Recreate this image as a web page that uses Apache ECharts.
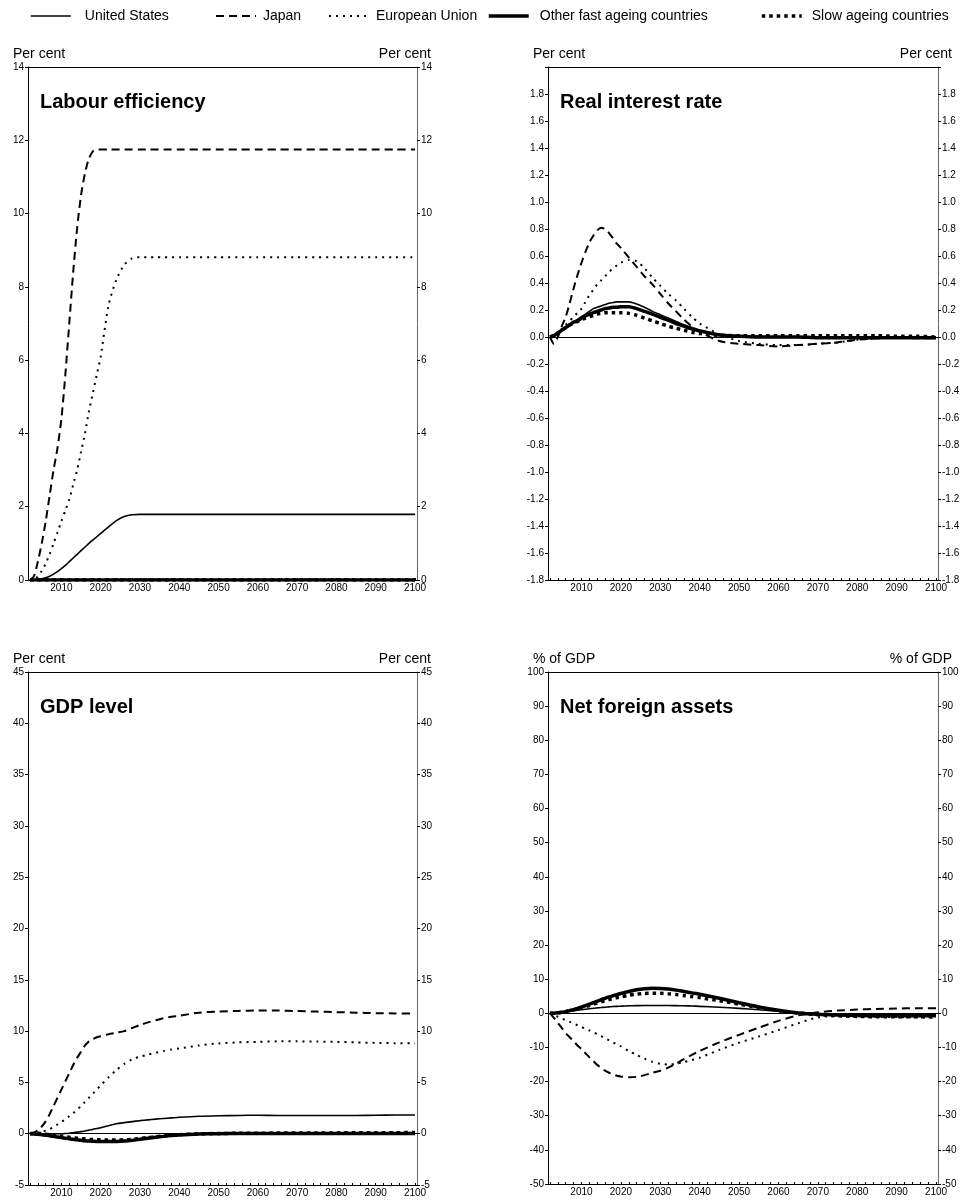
<!DOCTYPE html>
<html>
<head>
<meta charset="utf-8">
<title>Effects of ageing scenarios</title>
<script src="https://cdn.jsdelivr.net/npm/echarts@6/dist/echarts.min.js"></script>
<style>
  html, body { margin: 0; padding: 0; background: #fff; }
  #chart { width: 969px; height: 1200px; }
</style>
</head>
<body>
<div id="chart"></div>
<script>
// Simulation years (annual to 2020, then every 2 years to 2040, then every 5 years)
const YEARS = [2002,2003,2004,2005,2006,2007,2008,2009,2010,2011,2012,2013,2014,2015,2016,2017,2018,2019,2020,
  2022,2024,2026,2028,2030,2032,2034,2036,2038,2040,
  2045,2050,2055,2060,2065,2070,2075,2080,2085,2090,2095,2100];

const YEAR_LABELS = [2010,2020,2030,2040,2050,2060,2070,2080,2090,2100];

const SERIES_NAMES = ['United States','Japan','European Union','Other fast ageing countries','Slow ageing countries'];

// Labour efficiency, per cent
const labourUS = [0,0,0.01,0.03,0.06,0.1,0.16,0.23,0.31,0.4,0.5,0.6,0.7,0.8,0.9,1.0,1.09,1.18,1.27,
  1.45,1.62,1.73,1.78,1.79,1.79,1.79,1.79,1.79,1.79,
  1.79,1.79,1.79,1.79,1.79,1.79,1.79,1.79,1.79,1.79,1.79,1.79];
const labourJapan = [0,0.1,0.5,1.0,1.6,2.3,3.0,3.6,4.4,5.6,7.0,8.4,9.6,10.5,11.1,11.5,11.7,11.75,11.75,
  11.75,11.75,11.75,11.75,11.75,11.75,11.75,11.75,11.75,11.75,
  11.75,11.75,11.75,11.75,11.75,11.75,11.75,11.75,11.75,11.75,11.75,11.75];
const labourEU = [0,0,0.1,0.25,0.45,0.7,1.0,1.3,1.6,1.9,2.2,2.6,3.0,3.5,4.0,4.6,5.1,5.6,6.1,
  7.5,8.2,8.6,8.78,8.81,8.81,8.81,8.81,8.81,8.81,
  8.81,8.81,8.81,8.81,8.81,8.81,8.81,8.81,8.81,8.81,8.81,8.81];
const labourOther = [0,0,0,0,0,0,0,0,0,0,0,0,0,0,0,0,0,0,0,
  0,0,0,0,0,0,0,0,0,0,
  0,0,0,0,0,0,0,0,0,0,0,0];
const labourSlow = [0,0,0,0,0,0,0,0,0,0,0,0,0,0,0,0,0,0,0,
  0,0,0,0,0,0,0,0,0,0,
  0,0,0,0,0,0,0,0,0,0,0,0];

// Real interest rate, per cent
const rateUS = [0,0.01,0.03,0.05,0.07,0.09,0.11,0.13,0.15,0.17,0.19,0.21,0.22,0.23,0.24,0.25,0.255,0.26,0.26,
  0.26,0.245,0.22,0.19,0.165,0.14,0.115,0.09,0.07,0.05,
  0.02,0.01,0.005,0,0,0,0,0,0,0,0,-0.005];
const rateJapan = [0,-0.05,0.0,0.08,0.15,0.25,0.36,0.46,0.55,0.63,0.70,0.75,0.79,0.81,0.80,0.77,0.73,0.69,0.66,
  0.59,0.52,0.45,0.39,0.32,0.25,0.19,0.13,0.08,0.04,
  -0.03,-0.05,-0.06,-0.07,-0.06,-0.05,-0.04,-0.02,-0.01,0,-0.01,-0.01];
const rateEU = [0,0,0.03,0.06,0.09,0.12,0.15,0.18,0.21,0.26,0.31,0.35,0.39,0.42,0.45,0.48,0.51,0.53,0.55,
  0.57,0.56,0.51,0.44,0.38,0.32,0.27,0.21,0.15,0.10,
  0.02,-0.03,-0.05,-0.06,-0.06,-0.05,-0.04,-0.02,-0.01,0,0,-0.01];
const rateOther = [0,0.01,0.03,0.05,0.07,0.09,0.11,0.12,0.14,0.155,0.17,0.18,0.19,0.2,0.21,0.215,0.22,0.22,0.225,
  0.225,0.21,0.19,0.17,0.145,0.125,0.1,0.08,0.06,0.045,
  0.015,0.005,0,0,0,-0.005,-0.005,-0.005,-0.005,-0.005,-0.005,-0.005];
const rateSlow = [0,0.01,0.03,0.05,0.07,0.09,0.1,0.115,0.13,0.14,0.15,0.16,0.17,0.175,0.18,0.18,0.18,0.18,0.18,
  0.175,0.16,0.14,0.12,0.1,0.08,0.065,0.05,0.035,0.025,
  0.012,0.01,0.01,0.01,0.01,0.01,0.01,0.01,0.01,0.005,0.005,0];

// GDP level, per cent
const gdpUS = [0,0,0,0,0,0,0,0,0,0.02,0.05,0.1,0.15,0.2,0.27,0.35,0.42,0.5,0.58,
  0.78,0.97,1.08,1.18,1.27,1.35,1.42,1.48,1.54,1.6,
  1.7,1.75,1.78,1.8,1.78,1.78,1.78,1.78,1.78,1.8,1.82,1.82];
const gdpJapan = [0,0.1,0.35,0.7,1.2,1.9,2.7,3.5,4.3,5.1,5.9,6.7,7.4,8.0,8.6,9.0,9.2,9.4,9.5,
  9.7,9.85,10.0,10.3,10.6,10.85,11.05,11.25,11.4,11.5,
  11.8,11.9,11.97,12.0,12.0,11.95,11.9,11.85,11.8,11.75,11.72,11.7];
const gdpEU = [0,0.05,0.1,0.2,0.3,0.45,0.65,0.9,1.15,1.4,1.7,2.0,2.35,2.7,3.1,3.5,3.9,4.3,4.7,
  5.5,6.2,6.8,7.25,7.5,7.7,7.9,8.05,8.2,8.3,
  8.6,8.8,8.9,8.95,9.0,9.0,8.98,8.95,8.9,8.85,8.82,8.8];
const gdpOther = [0,-0.02,-0.05,-0.1,-0.15,-0.2,-0.26,-0.32,-0.38,-0.44,-0.5,-0.55,-0.6,-0.64,-0.68,-0.71,-0.73,-0.75,-0.76,
  -0.77,-0.76,-0.72,-0.65,-0.55,-0.45,-0.35,-0.26,-0.18,-0.12,
  -0.04,0,0.01,0.01,0.01,0.01,0.01,0.01,0.01,0.01,0.01,0.01];
const gdpSlow = [0,0.05,0.05,0,-0.05,-0.1,-0.15,-0.2,-0.25,-0.3,-0.35,-0.4,-0.44,-0.48,-0.52,-0.55,-0.57,-0.59,-0.6,
  -0.62,-0.62,-0.6,-0.55,-0.47,-0.38,-0.3,-0.22,-0.15,-0.09,
  -0.02,0.02,0.04,0.05,0.06,0.07,0.08,0.08,0.09,0.1,0.1,0.12];

// Net foreign assets, % of GDP
const nfaUS = [0,0.1,0.2,0.3,0.45,0.6,0.75,0.9,1.05,1.2,1.35,1.5,1.6,1.7,1.8,1.9,2.0,2.05,2.1,
  2.2,2.25,2.3,2.3,2.3,2.3,2.25,2.2,2.15,2.05,
  1.8,1.45,1.05,0.6,0.2,-0.1,-0.2,-0.3,-0.3,-0.3,-0.3,-0.3];
const nfaJapan = [0,-1.3,-2.8,-4.3,-5.8,-7.0,-8.2,-9.4,-10.5,-11.7,-12.9,-14.0,-15.1,-16.0,-16.8,-17.4,-17.9,-18.3,-18.5,
  -18.7,-18.6,-18.1,-17.4,-16.8,-15.9,-14.7,-13.4,-12.2,-11.0,
  -8.5,-6.3,-4.2,-2.2,-0.6,0.3,0.8,1.1,1.3,1.4,1.5,1.5];
const nfaEU = [0,-0.5,-1.0,-1.5,-2.0,-2.5,-3.0,-3.5,-4.0,-4.5,-5.0,-5.5,-6.1,-6.7,-7.3,-7.9,-8.5,-9.1,-9.7,
  -11.0,-12.2,-13.3,-14.2,-14.8,-15.0,-14.8,-14.3,-13.7,-13.0,
  -10.7,-8.6,-6.8,-4.9,-2.9,-1.2,-0.8,-0.9,-1.0,-1.1,-1.2,-1.3];
const nfaOther = [0,0.05,0.15,0.3,0.5,0.8,1.1,1.45,1.85,2.25,2.7,3.1,3.55,4.0,4.4,4.8,5.15,5.5,5.8,
  6.4,6.9,7.2,7.35,7.3,7.1,6.8,6.4,6.0,5.6,
  4.4,3.1,1.9,0.9,0.1,-0.3,-0.5,-0.6,-0.7,-0.7,-0.7,-0.7];
const nfaSlow = [0,0.05,0.15,0.3,0.5,0.75,1.0,1.3,1.6,1.95,2.3,2.65,3.0,3.35,3.7,4.0,4.3,4.6,4.85,
  5.3,5.6,5.8,5.9,5.85,5.7,5.5,5.2,4.9,4.6,
  3.7,2.7,1.7,0.8,0.1,-0.4,-0.7,-0.9,-1.0,-1.0,-1.0,-1.0];

const FONT = '"Liberation Sans", Arial, Helvetica, sans-serif';

// Line appearance for each economy
const LINE_STYLES = {
  'United States':               { width: 1.6, type: 'solid', z: 6 },
  'Japan':                       { width: 2,   type: [8, 5],  z: 5 },
  'European Union':              { width: 2,   type: [2, 5],  z: 4 },
  'Other fast ageing countries': { width: 3.5, type: 'solid', z: 3 },
  'Slow ageing countries':       { width: 3.5, type: [3.5, 4], z: 2 }
};

const PANELS = [
  { title: 'Labour efficiency', unit: 'Per cent', min: 0, max: 14, interval: 2, decimals: 0, hideTop: false,
    values: [labourUS, labourJapan, labourEU, labourOther, labourSlow],
    box: { left: 28, top: 67, width: 389, height: 513 } },
  { title: 'Real interest rate', unit: 'Per cent', min: -1.8, max: 2.0, interval: 0.2, decimals: 1, hideTop: true,
    values: [rateUS, rateJapan, rateEU, rateOther, rateSlow],
    box: { left: 548, top: 67, width: 390, height: 513 } },
  { title: 'GDP level', unit: 'Per cent', min: -5, max: 45, interval: 5, decimals: 0, hideTop: false,
    values: [gdpUS, gdpJapan, gdpEU, gdpOther, gdpSlow],
    box: { left: 28, top: 672, width: 389, height: 513 } },
  { title: 'Net foreign assets', unit: '% of GDP', min: -50, max: 100, interval: 10, decimals: 0, hideTop: false,
    values: [nfaUS, nfaJapan, nfaEU, nfaOther, nfaSlow],
    box: { left: 548, top: 672, width: 390, height: 512 } }
];

// Minor ticks along the year axis
const tickYears = [];
for (let y = 2002; y <= 2100; y += 2) tickYears.push(y);

const grids = [], xAxes = [], yAxes = [], series = [], graphics = [];

PANELS.forEach((p, i) => {
  grids.push({ left: p.box.left, top: p.box.top, width: p.box.width, height: p.box.height });

  const fmt = (v) => {
    if (p.hideTop && Math.abs(v - p.max) < 1e-9) return '';
    if (Math.abs(v) < 1e-9) v = 0;
    return p.decimals ? v.toFixed(p.decimals) : String(Math.round(v));
  };

  // bottom year axis
  xAxes.push({
    type: 'value', gridIndex: i, min: 2001.5, max: 2100.5, position: 'bottom',
    axisLine: { show: true, onZero: false, lineStyle: { color: '#000', width: 1 } },
    axisTick: { show: true, inside: true, length: 2, customValues: tickYears, lineStyle: { color: '#000' } },
    axisLabel: { show: true, customValues: YEAR_LABELS, fontSize: 10, color: '#000', fontFamily: FONT, margin: 3,
      formatter: (v) => String(Math.round(v)) },
    splitLine: { show: false }
  });
  // top frame edge
  xAxes.push({
    type: 'value', gridIndex: i, min: 2001.5, max: 2100.5, position: 'top',
    axisLine: { show: true, onZero: false, lineStyle: { color: '#000', width: 1 } },
    axisTick: { show: false }, axisLabel: { show: false }, splitLine: { show: false }
  });

  const yBase = {
    type: 'value', gridIndex: i, min: p.min, max: p.max, interval: p.interval,
    axisTick: { show: true, inside: false, length: 3, lineStyle: { color: '#000' } },
    axisLabel: { fontSize: 10, color: '#000', fontFamily: FONT, margin: 4, formatter: fmt },
    splitLine: { show: false }
  };
  yAxes.push(Object.assign({}, yBase, {
    position: 'left',
    axisLine: { show: true, onZero: false, lineStyle: { color: '#000', width: 1 } }
  }));
  yAxes.push(Object.assign({}, yBase, {
    position: 'right',
    axisLine: { show: true, onZero: false, lineStyle: { color: '#666', width: 1 } }
  }));

  SERIES_NAMES.forEach((name, j) => {
    const st = LINE_STYLES[name];
    const s = {
      type: 'line', name: name,
      xAxisIndex: 2 * i, yAxisIndex: 2 * i,
      data: YEARS.map((yr, k) => [yr, p.values[j][k]]),
      symbol: 'none', showSymbol: false, smooth: 0.25,
      z: st.z,
      lineStyle: { color: '#000', width: st.width, type: st.type, cap: 'butt' },
      itemStyle: { color: '#000' },
      emphasis: { disabled: true },
      animation: false
    };
    if (j === 0) {
      s.markLine = {
        silent: true, symbol: 'none', label: { show: false },
        lineStyle: { color: '#000', width: 1.2, type: 'solid' },
        data: [{ yAxis: 0 }], animation: false
      };
    }
    series.push(s);
  });

  const b = p.box;
  graphics.push({
    type: 'text', left: b.left + 12, top: b.top + 25,
    style: { text: p.title, font: 'bold 20px ' + FONT, fill: '#000' }
  });
  graphics.push({
    type: 'text', x: b.left - 15, y: b.top - 13,
    style: { text: p.unit, font: '14px ' + FONT, fill: '#000', textAlign: 'left', textVerticalAlign: 'middle' }
  });
  graphics.push({
    type: 'text', x: b.left + b.width + 14, y: b.top - 13,
    style: { text: p.unit, font: '14px ' + FONT, fill: '#000', textAlign: 'right', textVerticalAlign: 'middle' }
  });
});

// One legend entry per economy, placed along the top
const LEGEND_POS = [
  { left: 30,  pad: 9 },
  { left: 215, pad: 2 },
  { left: 328, pad: 2 },
  { left: 487, pad: 6 },
  { left: 760, pad: 5 }
];
const legends = SERIES_NAMES.map((name, j) => {
  const st = LINE_STYLES[name];
  return {
    data: [name], left: LEGEND_POS[j].left, top: 9, padding: 0,
    itemWidth: 40, itemHeight: 14, selectedMode: false,
    itemStyle: { opacity: 0 },
    lineStyle: { color: '#000', width: st.width, type: st.type, cap: 'butt' },
    textStyle: { fontSize: 14, color: '#000', fontFamily: FONT, padding: [0, 0, 0, LEGEND_POS[j].pad] }
  };
});

const chart = echarts.init(document.getElementById('chart'), null, { renderer: 'canvas' });
chart.setOption({
  backgroundColor: '#fff',
  animation: false,
  legend: legends,
  grid: grids,
  xAxis: xAxes,
  yAxis: yAxes,
  series: series,
  graphic: graphics
});
</script>
</body>
</html>
